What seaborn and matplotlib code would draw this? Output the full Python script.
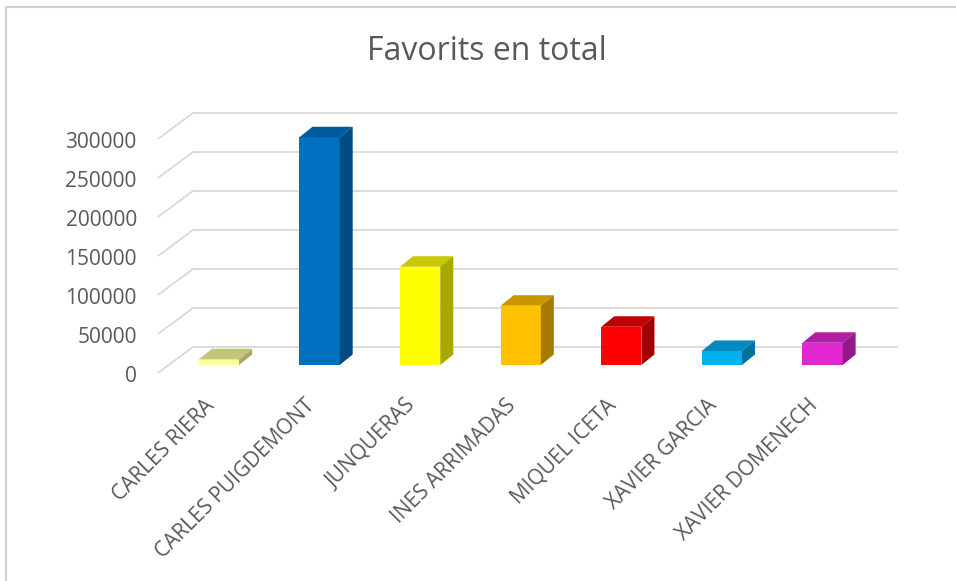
import matplotlib
matplotlib.use("Agg")
import matplotlib.pyplot as plt
import matplotlib.transforms as mtransforms
from matplotlib.patches import Polygon, Rectangle
from matplotlib.lines import Line2D
import seaborn as sns
import pandas as pd

# Data
candidats = ["CARLES RIERA", "CARLES PUIGDEMONT", "JUNQUERAS", "INES ARRIMADAS",
             "MIQUEL ICETA", "XAVIER GARCIA", "XAVIER DOMENECH"]
favorits = [7300, 292000, 126000, 76000, 49000, 18000, 28500]
yticks = [0, 50000, 100000, 150000, 200000, 250000, 300000]

# Face colours: front, top, side
front_cols = ["#FFFF99", "#0070C0", "#FFFF00", "#FFC000", "#FF0000", "#00B0F0", "#E226D0"]
top_cols = ["#C4C47A", "#005A9C", "#C8C800", "#C89600", "#C00000", "#0089BC", "#B01EA4"]
side_cols = ["#A8A866", "#004B82", "#A8A800", "#A67C00", "#A00000", "#00729C", "#93198A"]

df = pd.DataFrame({"candidat": candidats, "favorits": favorits})

sns.set_theme(style="white")
plt.rcParams["font.family"] = ["Open Sans", "DejaVu Sans"]

W, H = 956, 581
fig = plt.figure(figsize=(W / 100, H / 100), dpi=100)
fig.patch.set_facecolor("white")

# axes = plane of the bar front faces
x_left, x_right = 168.7, 872.8
y_zero, y_top = 365.0, 131.0
ax = fig.add_axes([x_left / W, 1 - y_zero / H, (x_right - x_left) / W, (y_zero - y_top) / H])
ax.set_facecolor("none")

sns.barplot(data=df, x="candidat", y="favorits", hue="candidat", palette=front_cols,
            legend=False, width=0.4, ax=ax, saturation=1, linewidth=0,
            edgecolor="none", zorder=3)
ax.set_xlim(-0.5, 6.5)
ax.set_ylim(0, 300000)
for s in ax.spines.values():
    s.set_visible(False)
ax.set_xlabel("")
ax.set_ylabel("")
ax.set_yticks(yticks)
ax.set_yticklabels([str(v) for v in yticks])
ax.tick_params(axis="y", length=0, pad=23, labelsize=15, labelcolor="#595959")
ax.tick_params(axis="x", length=0, pad=27, labelsize=15, labelcolor="#595959")
xshift = mtransforms.ScaledTranslation(-8 / 100, 0, fig.dpi_scale_trans)
for lab in ax.get_xticklabels():
    lab.set_rotation(45)
    lab.set_ha("right")
    lab.set_va("center")
    lab.set_rotation_mode("anchor")
    lab.set_transform(lab.get_transform() + xshift)
shift = mtransforms.ScaledTranslation(0, -9 / 100, fig.dpi_scale_trans)
for lab in ax.get_yticklabels():
    lab.set_transform(lab.get_transform() + shift)

ident = mtransforms.IdentityTransform()
grid_col = "#D9D9D9"
# depth offsets in pixels (display coords, y up)
back = (24.5, 18.2)
front = (-10.5, -7.8)
for v in yticks:
    x0, y0 = ax.transData.transform((-0.5, v))
    x1, _ = ax.transData.transform((6.5, v))
    fig.add_artist(Line2D([x0 + back[0], x1 + back[0]], [y0 + back[1], y0 + back[1]],
                          transform=ident, color=grid_col, lw=1.3, zorder=0))
    fig.add_artist(Line2D([x0 + front[0], x0 + back[0]], [y0 + front[1], y0 + back[1]],
                          transform=ident, color=grid_col, lw=1.3, zorder=0))

# top and side faces of each column
dx, dy = 13.0, 10.5
for patch, tc, sc in zip(ax.patches, top_cols, side_cols):
    bx, bw, bh = patch.get_x(), patch.get_width(), patch.get_height()
    xa, ya = ax.transData.transform((bx, 0))
    xb, yb = ax.transData.transform((bx + bw, bh))
    top = Polygon([(xa, yb), (xb, yb), (xb + dx, yb + dy), (xa + dx, yb + dy)],
                  closed=True, transform=ident, facecolor=tc, edgecolor="none", zorder=2)
    side = Polygon([(xb, ya), (xb + dx, ya + dy), (xb + dx, yb + dy), (xb, yb)],
                   closed=True, transform=ident, facecolor=sc, edgecolor="none", zorder=2)
    fig.add_artist(top)
    fig.add_artist(side)

# chart frame
fig.add_artist(Rectangle((6, -10), W + 20, H - 7 + 10, transform=ident, fill=False,
                         edgecolor="#D0D0D0", lw=1.5, zorder=0))

fig.text(487 / W, 1 - 52 / H, "Favorits en total", ha="center", va="center",
         fontsize=23, color="#595959")

fig.savefig("out.png", dpi=100)
